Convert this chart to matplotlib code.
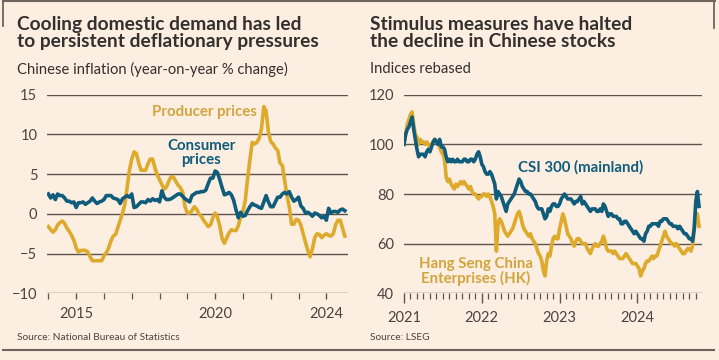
import matplotlib
matplotlib.use("Agg")
import matplotlib.pyplot as plt
from matplotlib.lines import Line2D
import numpy as np

# ---------------- Left chart data: monthly YoY % (Jan 2014 - Sep 2024)
ppi = [
    -1.6, -2.0, -2.3, -2.0, -1.4, -1.1, -0.9, -1.2, -1.8, -2.2, -2.7, -3.3,   # 2014
    -4.3, -4.8, -4.6, -4.6, -4.6, -4.8, -5.4, -5.9, -5.9, -5.9, -5.9, -5.9,   # 2015
    -5.3, -4.9, -4.3, -3.4, -2.8, -2.6, -1.7, -0.8, 0.1, 1.2, 3.3, 5.5,       # 2016
    6.9, 7.8, 7.6, 6.4, 5.5, 5.5, 5.5, 6.3, 6.9, 6.9, 5.8, 4.9,               # 2017
    4.3, 3.7, 3.1, 3.4, 4.1, 4.7, 4.6, 4.1, 3.6, 3.3, 2.7, 0.9,               # 2018
    0.1, 0.1, 0.4, 0.9, 0.6, 0.0, -0.3, -0.8, -1.2, -1.6, -1.4, -0.5,         # 2019
    0.1, -0.4, -1.5, -3.1, -3.7, -3.0, -2.4, -2.0, -2.1, -2.1, -1.5, -0.4,    # 2020
    0.3, 1.7, 4.4, 6.8, 9.0, 8.8, 9.0, 9.5, 10.7, 13.5, 12.9, 10.3,           # 2021
    9.1, 8.8, 8.3, 8.0, 6.4, 6.1, 4.2, 2.3, 0.9, -1.3, -1.3, -0.7,            # 2022
    -0.8, -1.4, -2.5, -3.6, -4.6, -5.4, -4.4, -3.0, -2.5, -2.6, -3.0, -2.7,   # 2023
    -2.5, -2.7, -2.8, -2.5, -1.4, -0.8, -0.8, -1.8, -2.8,                     # 2024
]
cpi = [
    2.5, 2.0, 2.4, 1.8, 2.5, 2.3, 2.3, 2.0, 1.6, 1.6, 1.4, 1.5,   # 2014
    0.8, 1.4, 1.4, 1.5, 1.2, 1.4, 1.6, 2.0, 1.6, 1.3, 1.5, 1.6,   # 2015
    1.8, 2.3, 2.3, 2.3, 2.0, 1.9, 1.8, 1.3, 1.9, 2.1, 2.3, 2.1,   # 2016
    2.5, 0.8, 0.9, 1.2, 1.5, 1.5, 1.4, 1.8, 1.6, 1.9, 1.7, 1.8,   # 2017
    1.5, 2.9, 2.1, 1.8, 1.8, 1.9, 2.1, 2.3, 2.5, 2.5, 2.2, 1.9,   # 2018
    1.7, 1.5, 2.3, 2.5, 2.7, 2.7, 2.8, 2.8, 3.0, 3.8, 4.5, 4.5,   # 2019
    5.4, 5.2, 4.3, 3.3, 2.4, 2.5, 2.7, 2.4, 1.7, 0.5, -0.5, 0.2,  # 2020
    -0.3, -0.2, 0.4, 0.9, 1.3, 1.1, 1.0, 0.8, 0.7, 1.5, 2.3, 1.5, # 2021
    0.9, 0.9, 1.5, 2.1, 2.1, 2.5, 2.7, 2.5, 2.8, 2.1, 1.6, 1.8,   # 2022
    2.1, 1.0, 0.7, 0.1, 0.2, 0.0, -0.3, 0.1, 0.0, -0.2, -0.5, -0.3,  # 2023
    -0.8, 0.7, 0.1, 0.3, 0.3, 0.2, 0.5, 0.6, 0.4,                 # 2024
]
left_start_year = 2014
left_yticks = [-10, -5, 0, 5, 10, 15]
left_xlabels = [2015, 2020, 2024]

# ---------------- Right chart data: weekly index levels, rebased (start 2021 = 100)
csi300 = [
    100, 104, 106, 107,  109, 111, 106, 102,  98, 95, 96, 96,  96, 95, 97, 98,      # 2021 Jan-Apr
    97, 99, 101, 102,  101, 100, 102, 99,  99, 98, 95, 93,  94, 93, 94, 93,          # 2021 May-Aug
    93, 94, 93, 93,  93, 94, 94, 93,  93, 94, 94, 93,  94, 96, 97, 95,               # 2021 Sep-Dec
    92, 91, 89, 88,  88, 89, 88, 86,  84, 78, 81, 80,  79, 77, 75, 73,               # 2022 Jan-Apr
    76, 77, 78, 79,  80, 82, 84, 86,  85, 83, 82, 81,  81, 80, 80, 79,               # 2022 May-Aug
    78, 77, 75, 74,  74, 74, 72, 70,  71, 74, 73, 75,  76, 76, 75, 75,               # 2022 Sep-Dec
    76, 78, 79, 80,  79, 78, 78, 78,  77, 76, 77, 77,  78, 79, 76, 77,               # 2023 Jan-Apr
    76, 75, 74, 73,  74, 74, 74, 73,  73, 74, 73, 76,  75, 73, 71, 72,               # 2023 May-Aug
    72, 71, 71, 71,  70, 70, 68, 68,  69, 69, 68, 67,  66, 65, 64, 65,               # 2023 Sep-Dec
    64, 63, 62, 62,  61, 64, 65, 67,  67, 68, 68, 68,  68, 67, 69, 69,               # 2024 Jan-Apr
    70, 70, 70, 69,  68, 68, 67, 67,  67, 66, 67, 66,  65, 64, 64, 63,               # 2024 May-Aug
    62, 62, 61, 66,  77, 81, 75,                                                      # 2024 Sep-Oct
]
hscei = [
    100, 104, 108, 110,  112, 113, 108, 104,  103, 100, 102, 101,  101, 100, 101, 100,  # 2021 Jan-Apr
    99, 100, 101, 102,  101, 100, 99, 97,  96, 94, 87, 85,  86, 84, 83, 82,             # 2021 May-Aug
    84, 83, 84, 85,  84, 85, 84, 83,  82, 83, 81, 80,  80, 79, 78, 79,                  # 2021 Sep-Dec
    79, 80, 80, 79,  80, 79, 77, 75,  72, 57, 68, 70,  69, 67, 65, 64,                  # 2022 Jan-Apr
    63, 64, 65, 66,  68, 70, 72, 73,  71, 68, 66, 65,  64, 63, 64, 62,                  # 2022 May-Aug
    61, 60, 58, 56,  55, 53, 49, 47,  53, 56, 55, 59,  62, 63, 62, 62,                  # 2022 Sep-Dec
    66, 69, 72, 70,  67, 64, 63, 62,  60, 59, 61, 62,  62, 61, 60, 60,                  # 2023 Jan-Apr
    60, 58, 57, 56,  58, 59, 60, 59,  59, 60, 61, 63,  61, 58, 57, 57,                  # 2023 May-Aug
    57, 56, 57, 56,  55, 54, 54, 54,  55, 56, 55, 54,  53, 52, 52, 52,                  # 2023 Sep-Dec
    51, 50, 47, 49,  50, 52, 53, 53,  54, 55, 54, 55,  55, 57, 59, 61,                  # 2024 Jan-Apr
    63, 65, 63, 62,  61, 60, 60, 59,  60, 59, 58, 57,  56, 56, 57, 58,                  # 2024 May-Aug
    58, 57, 59, 65,  71, 72, 67,                                                         # 2024 Sep-Oct
]
right_start_year = 2021
right_yticks = [40, 60, 80, 100, 120]
right_xlabels = [2021, 2022, 2023, 2024]

# ---------------- styling
BG = "#FDEEE2"
GOLD = "#DDAA2C"
GOLD_TXT = "#D2A53C"
TEAL = "#0F5C7B"
GRID = "#5E544E"
TXT = "#33302E"
LABEL = "#4A4340"
FONT = ["Lato", "DejaVu Sans"]
plt.rcParams["font.family"] = FONT
LW = 2.6

fig = plt.figure(figsize=(7.19, 3.60), dpi=100, facecolor=BG)
W, H = 719.0, 360.0

def fx(px):
    return px / W

def fy(py):
    return 1 - py / H

def style_axes(ax, yticks):
    ax.set_facecolor(BG)
    for s in ax.spines.values():
        s.set_visible(False)
    ax.set_yticks(yticks)
    ax.tick_params(axis="y", length=0, pad=7, labelsize=10.5, labelcolor=LABEL)
    ax.yaxis.grid(True, color=GRID, lw=1.0)
    ax.set_axisbelow(True)
    ax.tick_params(axis="x", which="both", color=GRID, labelsize=10.5,
                   labelcolor=LABEL, direction="out")
    ax.tick_params(axis="x", which="major", length=5, width=1.0, pad=6)
    ax.tick_params(axis="x", which="minor", length=4, width=0.9)

# ---------- left axes
axL = fig.add_axes([fx(47), fy(293.3), fx(348 - 47), (293.3 - 94.7) / H])
style_axes(axL, left_yticks)
xL = np.array([left_start_year + i / 12 for i in range(len(ppi))])
axL.plot(xL, ppi, color=GOLD, lw=LW, solid_joinstyle="round", zorder=3)
axL.plot(xL, cpi, color=TEAL, lw=LW, solid_joinstyle="round", zorder=4)
axL.set_ylim(-10, 15)
axL.set_xlim(2013.95, 2024.78)
axL.set_xticks(left_xlabels)
axL.set_xticklabels([str(v) for v in left_xlabels])
axL.set_xticks(list(range(2014, 2025)), minor=True)
axL.tick_params(axis="x", which="major", length=4)
axL.text(2019.63, 12.8, "Producer prices", color=GOLD_TXT, fontsize=10.8,
         fontweight="bold", ha="center", va="center")
axL.text(2019.5, 7.6, "Consumer\nprices", color=TEAL, fontsize=10.8,
         fontweight="bold", ha="center", va="center", linespacing=1.0)

# ---------- right axes
axR = fig.add_axes([fx(404), fy(293.3), fx(702 - 404), (293.3 - 94.7) / H])
style_axes(axR, right_yticks)
xR = np.array([right_start_year + i / 48 for i in range(len(csi300))])
axR.plot(xR, hscei, color=GOLD, lw=LW, solid_joinstyle="round", zorder=3)
axR.plot(xR, csi300, color=TEAL, lw=LW, solid_joinstyle="round", zorder=4)
axR.set_ylim(40, 120)
axR.set_xlim(2021.0, 2024.83)
axR.set_xticks(right_xlabels)
axR.set_xticklabels([str(v) for v in right_xlabels])
axR.set_xticks([2021 + m / 12 for m in range(0, 46)], minor=True)
axR.tick_params(axis="x", which="major", length=7)
axR.text(2023.27, 90.9, "CSI 300 (mainland)", color=TEAL, fontsize=10.8,
         fontweight="bold", ha="center", va="center")
axR.text(2021.92, 48.6, "Hang Seng China\nEnterprises (HK)", color=GOLD_TXT,
         fontsize=10.8, fontweight="bold", ha="center", va="center", linespacing=1.0)

# ---------- titles and notes
fig.text(fx(17), fy(33), "Cooling domestic demand has led\nto persistent deflationary pressures",
         fontsize=13.8, fontweight="bold", color=TXT, ha="left", va="center", linespacing=1.0)
fig.text(fx(17), fy(69), "Chinese inflation (year-on-year % change)", fontsize=10.6,
         color=TXT, ha="left", va="center")
fig.text(fx(370), fy(33), "Stimulus measures have halted\nthe decline in Chinese stocks",
         fontsize=13.8, fontweight="bold", color=TXT, ha="left", va="center", linespacing=1.0)
fig.text(fx(370), fy(69), "Indices rebased", fontsize=10.6, color=TXT, ha="left", va="center")
fig.text(fx(17), fy(338), "Source: National Bureau of Statistics", fontsize=7.3,
         color=LABEL, ha="left", va="center")
fig.text(fx(370), fy(338), "Source: LSEG", fontsize=7.3, color=LABEL, ha="left", va="center")

# ---------- frame lines
FRAME = "#6E645E"
fig.add_artist(Line2D([fx(3), fx(715)], [fy(1), fy(1)], color=FRAME, lw=1.5))
fig.add_artist(Line2D([fx(3), fx(3)], [fy(1), fy(26)], color=FRAME, lw=1.3))
fig.add_artist(Line2D([fx(714), fx(714)], [fy(1), fy(28)], color=FRAME, lw=1.3))
fig.add_artist(Line2D([fx(3), fx(714)], [fy(350), fy(350)], color=FRAME, lw=1.5))

fig.savefig("out.png", dpi=100, facecolor=BG)
